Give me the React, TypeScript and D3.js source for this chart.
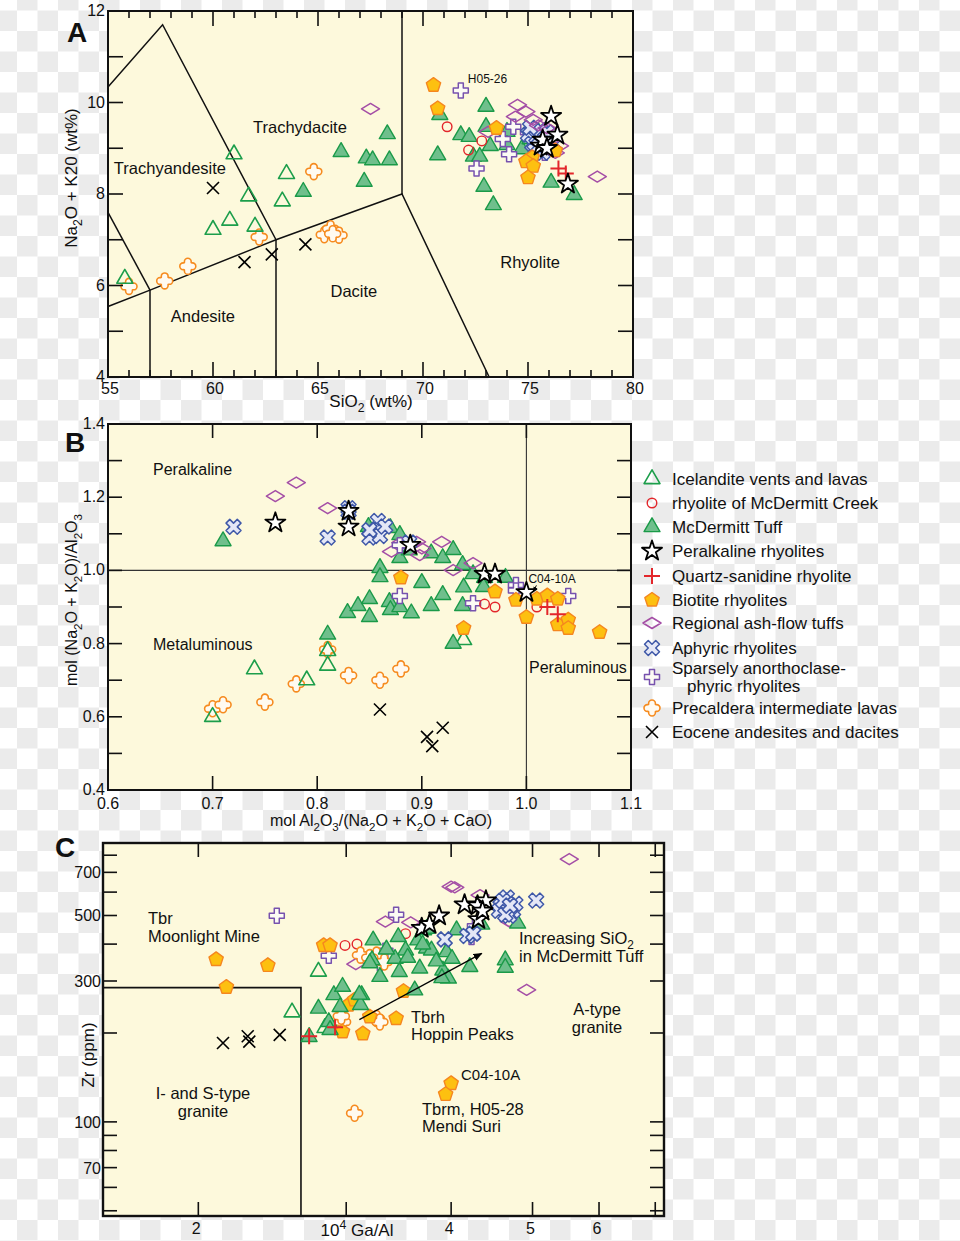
import React, { useEffect, useRef } from 'react';
import * as d3 from 'd3';

type P = [number, number];

// ---------------- Panel A (TAS) ----------------
const icelanditeA: P[] = [[55.8,6.15],[61.0,8.87],[61.7,7.95],[60.0,7.22],[60.8,7.42],[62.0,7.29],[63.5,8.44],[63.3,7.84]];
const mcdermittA: P[] = [[64.3,8.05],[66.1,8.92],[67.2,8.27],[67.3,8.78],[67.6,8.74],[68.3,9.31],[68.4,8.74],[70.8,9.73],[70.7,8.85],[71.8,9.29],[72.2,9.25],[73.0,9.91],[73.0,9.47],[72.4,8.82],[72.7,8.82],[73.2,9.05],[72.9,8.16],[73.35,7.76],[74.0,9.36],[74.0,9.07],[74.7,8.98],[76.1,8.25],[77.2,7.98],[75.1,9.2],[75.5,9.35]];
const creekA: P[] = [[71.15,9.47],[72.17,8.96],[72.8,9.16]];
const starsA: P[] = [[76.1,9.7],[76.4,9.29],[75.6,9.05],[75.7,9.18],[76.9,8.22],[75.9,9.0]];
const quartzA: P[] = [[76.45,8.56],[76.8,8.45]];
const biotiteA: P[] = [[70.5,10.38],[70.7,9.87],[73.5,9.44],[75.2,8.8],[74.9,8.71],[75.25,8.61],[75.0,8.36],[76.3,8.95]];
const regionalA: P[] = [[67.5,9.86],[74.5,9.95],[74.4,9.69],[74.9,9.8],[75.25,9.62],[73.1,9.36],[75.9,9.44],[76.5,9.05],[78.3,8.38],[76.2,9.0],[76.3,8.9],[75.5,9.5]];
const aphyricA: P[] = [[75.0,9.3],[75.2,9.1],[75.4,9.25],[75.6,9.4],[75.8,9.2],[75.3,8.95],[75.7,8.9],[76.0,9.15],[75.1,9.45],[75.9,9.35],[76.2,9.1],[75.5,9.05]];
const sparselyA: P[] = [[71.8,10.26],[72.55,8.56],[74.1,8.87],[74.3,9.47],[73.8,9.2],[75.0,9.35],[75.8,8.9]];
const precalderaA: P[] = [[56.0,5.98],[57.7,6.1],[58.8,6.42],[62.2,7.06],[64.8,8.49],[65.3,7.11],[65.6,7.24],[66.0,7.1],[65.7,7.13]];
const eoceneA: P[] = [[60.0,8.13],[61.5,6.51],[62.8,6.68],[64.4,6.9]];
const tasLines: P[][] = [
  [[55,10.34],[57.6,11.7],[63,7]],
  [[55,7.6],[57,5.9]],
  [[55,5.54],[57,5.9],[63,7],[69,8],[73.15,4]],
  [[57,5.9],[57,4]],
  [[63,7],[63,4]],
  [[69,8],[69,12]],
];
const tasNames = ['Trachydacite','Trachyandesite','Andesite','Dacite','Rhyolite'];
const tasNamePos: P[] = [[64.14,9.33],[57.95,8.44],[59.52,5.2],[66.71,5.75],[75.1,6.38]];

// ---------------- Panel B (Shand) ----------------
const icelanditeB: P[] = [[0.70,0.60],[0.74,0.73],[0.79,0.70],[0.81,0.74],[0.81,0.78],[0.94,0.81]];
const mcdermittB: P[] = [[0.71,1.08],[0.81,0.825],[0.93,0.80],[0.849,1.119],[0.87,1.116],[0.879,1.097],[0.879,1.034],[0.86,1.007],[0.86,0.982],[0.909,1.047],[0.92,1.034],[0.93,1.056],[0.939,1.015],[0.90,0.966],[0.92,0.933],[0.94,0.954],[0.829,0.884],[0.839,0.903],[0.85,0.922],[0.85,0.873],[0.869,0.914],[0.87,0.892],[0.879,0.90],[0.89,0.883],[0.909,0.903],[0.939,0.903],[0.949,0.99],[0.96,0.98],[0.98,0.98],[0.959,0.955],[0.888,1.055]];
const creekB: P[] = [[0.96,0.908],[0.97,0.90],[1.01,0.90]];
const starsB: P[] = [[0.76,1.13],[0.83,1.162],[0.83,1.119],[0.889,1.069],[0.96,0.99],[0.97,0.99],[1.0,0.94]];
const quartzB: P[] = [[1.02,0.90],[1.03,0.88]];
const biotiteB: P[] = [[0.88,0.98],[0.97,0.942],[0.99,0.919],[1.0,0.872],[1.01,0.922],[1.02,0.931],[1.03,0.922],[1.03,0.852],[1.04,0.865],[1.04,0.842],[1.07,0.831],[0.94,0.842]];
const regionalB: P[] = [[0.76,1.203],[0.78,1.24],[0.81,1.17],[0.871,1.051],[0.88,1.076],[0.895,1.078],[0.919,1.078],[0.898,1.042],[0.93,1.001],[0.949,1.02],[0.90,1.06]];
const aphyricB: P[] = [[0.72,1.119],[0.81,1.09],[0.83,1.17],[0.83,1.16],[0.85,1.09],[0.858,1.135],[0.859,1.112],[0.86,1.094],[0.85,1.11],[0.888,1.076],[0.865,1.12]];
const sparselyB: P[] = [[0.879,0.93],[0.949,0.91],[0.99,0.96],[1.04,0.93],[0.879,1.069],[0.99,0.945]];
const precalderaB: P[] = [[0.70,0.622],[0.71,0.633],[0.75,0.64],[0.78,0.69],[0.81,0.784],[0.83,0.713],[0.86,0.70],[0.88,0.731]];
const eoceneB: P[] = [[0.86,0.62],[0.91,0.52],[0.905,0.545],[0.92,0.57]];

// ---------------- Panel C (Whalen) ----------------
const icelanditeC: P[] = [[2.586,235],[2.78,323],[2.83,208]];
const mcdermittC: P[] = [[2.71,194],[2.78,242],[2.86,218],[2.9,269],[2.97,287],[2.95,245],[3.13,269],[3.12,249],[3.23,412],[3.22,353],[3.29,310],[3.46,423],[3.53,381],[3.47,322],[3.43,357],[3.65,412],[3.67,331],[3.74,387],[3.79,381],[3.95,376],[3.91,326],[3.97,306],[4.06,446],[4.01,357],[4.21,335],[3.71,446],[3.62,279],[4.8,470],[4.64,353],[4.64,333],[3.74,451],[2.87,205],[3.11,270],[3.35,384],[3.55,360],[3.84,350],[3.9,307],[4.35,466],[3.7,399],[3.2,345]];
const creekC: P[] = [[2.99,396],[3.09,400],[3.53,434]];
const starsC: P[] = [[3.69,453],[3.77,467],[3.87,499],[4.15,544],[4.3,540],[4.4,561],[4.31,485],[4.36,518]];
const quartzC: P[] = [[2.71,195],[2.91,209]];
const biotiteC: P[] = [[2.1,355],[2.42,339],[2.16,286],[2.82,396],[2.87,396],[3.02,249],[2.97,202],[3.14,199],[3.44,224],[3.51,277],[4.0,135],[3.94,124],[3.07,259],[3.2,227]];
const regionalC: P[] = [[5.53,776],[4.0,626],[4.04,623],[3.34,477],[3.58,474],[4.33,586],[3.08,342],[4.92,280],[4.69,478]];
const aphyricC: P[] = [[3.93,415],[4.18,426],[4.25,434],[4.66,575],[5.05,562],[4.58,539],[4.66,525],[4.74,519],[4.56,519],[4.69,499],[4.61,561],[4.77,548],[4.64,504],[4.7,540]];
const sparselyC: P[] = [[2.48,499],[2.86,365],[3.34,380],[3.44,503],[3.29,344],[4.23,423],[4.27,460]];
const precalderaC: P[] = [[3.12,367],[3.26,367],[3.33,348],[2.97,218],[3.26,224],[3.29,218],[3.07,107],[2.96,228],[3.2,360]];
const eoceneC: P[] = [[2.14,185],[2.29,195],[2.3,187],[2.5,197]];
const whalenBox: P[] = [[1.54,285],[2.65,285],[2.65,48]];
const trendArrow: P[] = [[3.11,222],[4.35,372]];

// ---------------- Axes ----------------
const ticksAx = d3.range(55, 81, 1);
const labelsAx = [55, 60, 65, 70, 75, 80];
const ticksAy = d3.range(4, 13, 1);
const labelsAy = [4, 6, 8, 10, 12];
const ticksBx = [0.6, 0.7, 0.8, 0.9, 1.0, 1.1];
const ticksBy = [0.4, 0.5, 0.6, 0.7, 0.8, 0.9, 1.0, 1.1, 1.2, 1.3, 1.4];
const labelsBy = [0.4, 0.6, 0.8, 1.0, 1.2, 1.4];
const ticksCx = [2, 3, 4, 5, 6, 7];
const labelsCx = [2, 4, 5, 6];
const ticksCy = [50, 60, 70, 80, 90, 100, 200, 300, 400, 500, 600, 700, 800];
const labelsCy = [70, 100, 300, 500, 700];

const legendLabels = [
  'Icelandite vents and lavas',
  'rhyolite of McDermitt Creek',
  'McDermitt Tuff',
  'Peralkaline rhyolites',
  'Quartz-sanidine rhyolite',
  'Biotite rhyolites',
  'Regional ash-flow tuffs',
  'Aphyric rhyolites',
  'Sparsely anorthoclase-|phyric rhyolites',
  'Precaldera intermediate lavas',
  'Eocene andesites and dacites',
];
const legendKeys = ['icelandite','creek','mcdermitt','star','quartz','biotite','regional','aphyric','sparsely','precaldera','eocene'];

const FONT = "'Liberation Sans', Arial, Helvetica, sans-serif";
const BG = '#fdf9dc';

const sym = (t: d3.SymbolType, s: number) => d3.symbol().type(t).size(s)() as string;
const pentagon = (r: number) => {
  const pts = d3.range(5).map(i => {
    const a = -Math.PI / 2 + (i * 2 * Math.PI) / 5;
    return [r * Math.cos(a), r * Math.sin(a)];
  });
  return 'M' + pts.map(p => p[0].toFixed(2) + ',' + p[1].toFixed(2)).join('L') + 'Z';
};
const lobedCross =
  'M-3.4,-4.6A3.4,3.4 0 0 1 3.4,-4.6Q3,-3 4.6,-3.4A3.4,3.4 0 0 1 4.6,3.4Q3,3 3.4,4.6A3.4,3.4 0 0 1 -3.4,4.6Q-3,3 -4.6,3.4A3.4,3.4 0 0 1 -4.6,-3.4Q-3,-3 -3.4,-4.6Z';

const STY: Record<string, { d: string; fill: string; stroke: string; sw: number; rot?: number }> = {
  icelandite: { d: sym(d3.symbolTriangle, 110), fill: 'none', stroke: '#1c9e4b', sw: 1.6 },
  creek: { d: sym(d3.symbolCircle, 72), fill: 'none', stroke: '#e3262b', sw: 1.4 },
  mcdermitt: { d: sym(d3.symbolTriangle, 110), fill: '#6fbf8c', stroke: '#1a9a48', sw: 1.4 },
  star: { d: sym(d3.symbolStar, 125), fill: '#ffffff', stroke: '#000000', sw: 1.8 },
  quartz: { d: 'M-8,0H8M0,-8V8', fill: 'none', stroke: '#e3262b', sw: 2 },
  biotite: { d: pentagon(7.5), fill: '#fdc010', stroke: '#f5871f', sw: 1.4 },
  regional: { d: 'M-9,0L0,-5.5L9,0L0,5.5Z', fill: 'none', stroke: '#a44ea6', sw: 1.5 },
  aphyric: { d: sym(d3.symbolCross, 140), fill: '#e4e7f6', stroke: '#3f58a8', sw: 1.5, rot: 45 },
  sparsely: { d: sym(d3.symbolCross, 125), fill: '#fcfbf4', stroke: '#7752ae', sw: 1.5 },
  precaldera: { d: lobedCross, fill: '#fffaf0', stroke: '#f68b1f', sw: 1.6 },
  eocene: { d: 'M-6,-6L6,6M-6,6L6,-6', fill: 'none', stroke: '#000000', sw: 1.6 },
};

type Sel = d3.Selection<any, any, any, any>;

function marker(g: Sel, key: string, x: number, y: number) {
  const s = STY[key];
  g.append('path')
    .attr('d', s.d)
    .attr('transform', `translate(${x},${y})${s.rot ? ` rotate(${s.rot})` : ''}`)
    .attr('fill', s.fill)
    .attr('stroke', s.stroke)
    .attr('stroke-width', s.sw)
    .attr('stroke-linejoin', 'round');
}

type Part = [string, ('sub' | 'sup' | null)?];
function rich(g: Sel, x: number, y: number, parts: Part[], size: number, anchor = 'middle', rotate = 0) {
  const t = g.append('text')
    .attr('transform', `translate(${x},${y}) rotate(${rotate})`)
    .attr('text-anchor', anchor)
    .attr('font-family', FONT)
    .attr('font-size', size)
    .attr('fill', '#111');
  let shift = 0;
  parts.forEach(([s, k]) => {
    const target = k === 'sub' ? size * 0.3 : k === 'sup' ? -size * 0.4 : 0;
    const ts = t.append('tspan').text(s).attr('dy', target - shift);
    if (k) ts.attr('font-size', size * 0.72);
    shift = target;
  });
  return t;
}

function label(g: Sel, x: number, y: number, s: string, size: number, anchor = 'start', weight = 'normal') {
  g.append('text')
    .attr('x', x).attr('y', y)
    .attr('text-anchor', anchor)
    .attr('font-family', FONT)
    .attr('font-size', size)
    .attr('font-weight', weight)
    .attr('fill', '#111')
    .text(s);
}

function ticks(g: Sel, x: any, y: any, xt: number[], yt: number[], lenX: (v: number) => number, lenY: (v: number) => number) {
  const [x0, x1] = x.range();
  const [y0, y1] = y.range();
  xt.forEach(v => {
    const px = x(v), L = lenX(v);
    g.append('line').attr('x1', px).attr('x2', px).attr('y1', y0).attr('y2', y0 - L);
    g.append('line').attr('x1', px).attr('x2', px).attr('y1', y1).attr('y2', y1 + L);
  });
  yt.forEach(v => {
    const py = y(v), L = lenY(v);
    g.append('line').attr('x1', x0).attr('x2', x0 + L).attr('y1', py).attr('y2', py);
    g.append('line').attr('x1', x1).attr('x2', x1 - L).attr('y1', py).attr('y2', py);
  });
  g.selectAll('line').attr('stroke', '#111').attr('stroke-width', 1.6);
}

function drawSeries(g: Sel, x: any, y: any, sets: [string, P[]][]) {
  sets.forEach(([key, pts]) => pts.forEach(p => marker(g, key, x(p[0]), y(p[1]))));
}

export default function App() {
  const ref = useRef<SVGSVGElement>(null);
  useEffect(() => {
    const svg = d3.select(ref.current);
    svg.selectAll('*').remove();

    const defs = svg.append('defs');
    const pat = defs.append('pattern').attr('id', 'chk').attr('patternUnits', 'userSpaceOnUse')
      .attr('width', 41).attr('height', 41).attr('x', 17).attr('y', -10);
    pat.append('rect').attr('width', 41).attr('height', 41).attr('fill', '#ffffff');
    pat.append('rect').attr('width', 20.5).attr('height', 20.5).attr('fill', '#ebebeb');
    pat.append('rect').attr('x', 20.5).attr('y', 20.5).attr('width', 20.5).attr('height', 20.5).attr('fill', '#ebebeb');
    const mk = defs.append('marker').attr('id', 'arrow').attr('viewBox', '0 0 10 10').attr('refX', 9).attr('refY', 5)
      .attr('markerWidth', 9).attr('markerHeight', 9).attr('orient', 'auto').attr('markerUnits', 'userSpaceOnUse');
    mk.append('path').attr('d', 'M0,1L10,5L0,9Z').attr('fill', '#000');
    const mk2 = defs.append('marker').attr('id', 'arrowS').attr('viewBox', '0 0 10 10').attr('refX', 9).attr('refY', 5)
      .attr('markerWidth', 5).attr('markerHeight', 5).attr('orient', 'auto').attr('markerUnits', 'userSpaceOnUse');
    mk2.append('path').attr('d', 'M0,1L10,5L0,9Z').attr('fill', '#000');
    svg.append('rect').attr('width', 960).attr('height', 1241).attr('fill', 'url(#chk)');

    const line = d3.line<P>();

    // ================= Panel A =================
    const xA = d3.scaleLinear().domain([55, 80]).range([108, 633]);
    const yA = d3.scaleLinear().domain([4, 12]).range([377, 11]);
    const gA = svg.append('g');
    gA.append('rect').attr('x', 108).attr('y', 11).attr('width', 525).attr('height', 366).attr('fill', BG);
    tasLines.forEach(l => gA.append('path').attr('d', line.x(d => xA(d[0])).y(d => yA(d[1]))(l)!).attr('fill', 'none').attr('stroke', '#111').attr('stroke-width', 1.5));
    tasNames.forEach((n, i) => label(gA, xA(tasNamePos[i][0]), yA(tasNamePos[i][1]), n, 16.5, 'middle'));
    drawSeries(gA, xA, yA, [
      ['precaldera', precalderaA], ['eocene', eoceneA], ['icelandite', icelanditeA], ['mcdermitt', mcdermittA],
      ['creek', creekA], ['sparsely', sparselyA], ['aphyric', aphyricA], ['regional', regionalA],
      ['biotite', biotiteA], ['quartz', quartzA], ['star', starsA],
    ]);
    label(gA, xA(sparselyA[0][0]) + 7, yA(sparselyA[0][1]) - 8, 'H05-26', 12, 'start');
    const tA = gA.append('g');
    ticks(tA, xA, yA, ticksAx, ticksAy, v => (v % 5 === 0 ? 15 : 7), () => 15);
    gA.append('rect').attr('x', 108).attr('y', 11).attr('width', 525).attr('height', 366).attr('fill', 'none').attr('stroke', '#111').attr('stroke-width', 2);
    labelsAx.forEach(v => label(gA, xA(v) + 2, 394, String(v), 16, 'middle'));
    labelsAy.forEach(v => label(gA, 105, yA(v) + 5, String(v), 16, 'end'));
    label(gA, 67, 42, 'A', 28, 'start', 'bold');
    rich(gA, 371, 407, [['SiO'], ['2', 'sub'], [' (wt%)']], 17, 'middle');
    rich(gA, 77, 178, [['Na'], ['2', 'sub'], ['O + K20 (wt%)']], 17, 'middle', -90);

    // ================= Panel B =================
    const xB = d3.scaleLinear().domain([0.6, 1.1]).range([108, 631]);
    const yB = d3.scaleLinear().domain([0.4, 1.4]).range([790, 424]);
    const gB = svg.append('g');
    gB.append('rect').attr('x', 108).attr('y', 424).attr('width', 523).attr('height', 366).attr('fill', BG);
    gB.append('line').attr('x1', xB(0.6)).attr('x2', xB(1.1)).attr('y1', yB(1.0)).attr('y2', yB(1.0)).attr('stroke', '#333').attr('stroke-width', 1.1);
    gB.append('line').attr('x1', xB(1.0)).attr('x2', xB(1.0)).attr('y1', yB(0.4)).attr('y2', yB(1.4)).attr('stroke', '#333').attr('stroke-width', 1.1);
    label(gB, 153, 475, 'Peralkaline', 16);
    label(gB, 153, 650, 'Metaluminous', 16);
    label(gB, 529, 673, 'Peraluminous', 16);
    drawSeries(gB, xB, yB, [
      ['precaldera', precalderaB], ['eocene', eoceneB], ['icelandite', icelanditeB], ['mcdermitt', mcdermittB],
      ['regional', regionalB], ['aphyric', aphyricB], ['sparsely', sparselyB], ['creek', creekB],
      ['biotite', biotiteB], ['quartz', quartzB], ['star', starsB],
    ]);
    const cB = starsB[starsB.length - 1];
    label(gB, xB(cB[0]) + 2, yB(cB[1]) - 9, 'C04-10A', 12, 'start');
    gB.append('line').attr('x1', xB(cB[0]) + 10).attr('y1', yB(cB[1]) - 7).attr('x2', xB(cB[0]) + 7).attr('y2', yB(cB[1]) - 1)
      .attr('stroke', '#000').attr('stroke-width', 1).attr('marker-end', 'url(#arrowS)');
    const tB = gB.append('g');
    ticks(tB, xB, yB, ticksBx, ticksBy, () => 14, () => 14);
    gB.append('rect').attr('x', 108).attr('y', 424).attr('width', 523).attr('height', 366).attr('fill', 'none').attr('stroke', '#111').attr('stroke-width', 2);
    ticksBx.forEach(v => label(gB, xB(v), 809, v.toFixed(1), 16, 'middle'));
    labelsBy.forEach(v => label(gB, 105, yB(v) + 5, v.toFixed(1), 16, 'end'));
    label(gB, 65, 452, 'B', 28, 'start', 'bold');
    rich(gB, 381, 826, [['mol Al'], ['2', 'sub'], ['O'], ['3', 'sub'], ['/(Na'], ['2', 'sub'], ['O + K'], ['2', 'sub'], ['O + CaO)']], 16, 'middle');
    rich(gB, 77, 600, [['mol (Na'], ['2', 'sub'], ['O + K'], ['2', 'sub'], ['O)/Al'], ['2', 'sub'], ['O'], ['3', 'sub']], 16, 'middle', -90);

    // Legend
    const gL = svg.append('g');
    legendKeys.forEach((k, i) => {
      const rowY = [479, 503, 527, 551, 576, 600, 623, 648, 677, 708, 732][i];
      marker(gL, k, 652, rowY);
      const parts = legendLabels[i].split('|');
      if (parts.length === 1) label(gL, 672, rowY + 6, parts[0], 17);
      else {
        label(gL, 672, rowY - 3, parts[0], 17);
        label(gL, 687, rowY + 15, parts[1], 17);
      }
    });

    // ================= Panel C =================
    const xC = d3.scaleLog().domain([1.54, 7.17]).range([103, 664]);
    const yC = d3.scaleLog().domain([48, 880]).range([1216, 843]);
    const gC = svg.append('g');
    gC.append('rect').attr('x', 103).attr('y', 843).attr('width', 561).attr('height', 373).attr('fill', BG);
    gC.append('path').attr('d', line.x(d => xC(d[0])).y(d => yC(d[1]))(whalenBox)!).attr('fill', 'none').attr('stroke', '#111').attr('stroke-width', 1.6);
    drawSeries(gC, xC, yC, [
      ['eocene', eoceneC], ['icelandite', icelanditeC], ['regional', regionalC], ['sparsely', sparselyC],
      ['creek', creekC], ['precaldera', precalderaC], ['biotite', biotiteC], ['mcdermitt', mcdermittC],
      ['aphyric', aphyricC], ['quartz', quartzC], ['star', starsC],
    ]);
    gC.append('line')
      .attr('x1', xC(trendArrow[0][0])).attr('y1', yC(trendArrow[0][1]))
      .attr('x2', xC(trendArrow[1][0])).attr('y2', yC(trendArrow[1][1]))
      .attr('stroke', '#000').attr('stroke-width', 1.3).attr('marker-end', 'url(#arrow)');
    label(gC, 148, 924, 'Tbr', 16.5);
    label(gC, 148, 942, 'Moonlight Mine', 16.5);
    rich(gC, 519, 944, [['Increasing SiO'], ['2', 'sub']], 16.5, 'start');
    label(gC, 519, 962, 'in McDermitt Tuff', 16.5);
    label(gC, 597, 1015, 'A-type', 16.5, 'middle');
    label(gC, 597, 1033, 'granite', 16.5, 'middle');
    label(gC, 411, 1023, 'Tbrh', 16.5);
    label(gC, 411, 1040, 'Hoppin Peaks', 16.5);
    label(gC, 461, 1080, 'C04-10A', 15);
    label(gC, 422, 1115, 'Tbrm, H05-28', 16.5);
    label(gC, 422, 1132, 'Mendi Suri', 16.5);
    label(gC, 203, 1099, 'I- and S-type', 16.5, 'middle');
    label(gC, 203, 1117, 'granite', 16.5, 'middle');
    const tC = gC.append('g');
    ticks(tC, xC, yC, ticksCx, ticksCy, () => 14, () => 14);
    gC.append('rect').attr('x', 103).attr('y', 843).attr('width', 561).attr('height', 373).attr('fill', 'none').attr('stroke', '#111').attr('stroke-width', 2.4);
    labelsCx.forEach(v => label(gC, xC(v) - 2, 1234, String(v), 16, 'middle'));
    labelsCy.forEach(v => label(gC, 101, yC(v) + 6, String(v), 16, 'end'));
    label(gC, 55, 857, 'C', 28, 'start', 'bold');
    rich(gC, 357, 1236, [['10'], ['4', 'sup'], [' Ga/Al']], 17, 'middle');
    rich(gC, 94, 1055, [['Zr (ppm)']], 17, 'middle', -90);
  }, []);
  return <svg ref={ref} width={960} height={1241} style={{ position: 'absolute', left: 0, top: 0 }} />;
}
